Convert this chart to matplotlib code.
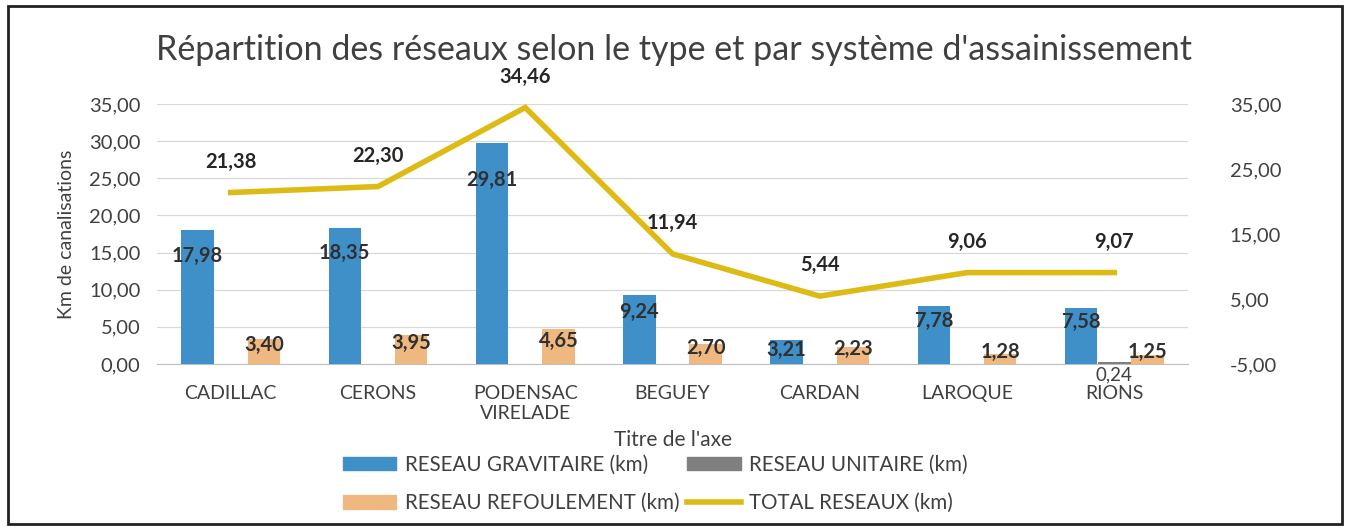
import matplotlib
matplotlib.use("Agg")
import matplotlib.pyplot as plt
import numpy as np
from matplotlib.patches import Patch, Rectangle
from matplotlib.lines import Line2D

plt.rcParams['font.family'] = ['Lato', 'DejaVu Sans']

categories = ["CADILLAC", "CERONS", "PODENSAC\nVIRELADE", "BEGUEY", "CARDAN", "LAROQUE", "RIONS"]
gravitaire = [17.98, 18.35, 29.81, 9.24, 3.21, 7.78, 7.58]
unitaire = [0, 0, 0, 0, 0, 0, 0.24]
refoulement = [3.40, 3.95, 4.65, 2.70, 2.23, 1.28, 1.25]
total = [21.38, 22.30, 34.46, 11.94, 5.44, 9.06, 9.07]
left_ticks = [0, 5, 10, 15, 20, 25, 30, 35]
right_ticks = [-5, 5, 15, 25, 35]

c_blue = '#3F8FC9'
c_grey = '#7F7F7F'
c_tan = '#EEB880'
c_line = '#DDBB14'
c_text = '#404040'

def fr(v):
    return f"{v:.2f}".replace('.', ',')

fig = plt.figure(figsize=(13.48, 5.28), dpi=100)
ax = fig.add_axes([157/1348, 1-364/528, (1188-157)/1348, 260/528])
ax2 = ax.twinx()

x = np.arange(len(categories))
w = 0.22
ax.bar(x - 0.225, gravitaire, w, color=c_blue, zorder=3)
ax.bar(x, unitaire, w, color=c_grey, zorder=3)
ax.bar(x + 0.225, refoulement, w, color=c_tan, zorder=3)

ax.set_ylim(0, 35)
ax.set_xlim(-0.5, len(categories) - 0.5)
ax.set_yticks(left_ticks)
ax.set_yticklabels([fr(t) for t in left_ticks], fontsize=14.5, color=c_text)
ax.set_xticks(x)
ax.set_xticklabels(categories, fontsize=14, color=c_text, linespacing=1.25)
ax.tick_params(axis='x', length=0, pad=15)
ax.tick_params(axis='y', length=0, pad=12)
ax.grid(axis='y', color='#D9D9D9', lw=0.9, zorder=0)
ax.set_axisbelow(True)
for s in ['top', 'left', 'right']:
    ax.spines[s].set_visible(False)
ax.spines['bottom'].set_color('#BFBFBF')
ax.set_ylabel("Km de canalisations", fontsize=14, color=c_text, labelpad=10)

for xi, v in zip(x, gravitaire):
    ax.text(xi - 0.225, v * 0.86 - 0.9, fr(v), ha='center', va='center',
            fontsize=14.5, fontweight='bold', color='#303030', zorder=5)
for xi, v in zip(x, refoulement):
    ax.text(xi + 0.225, v * 0.45 + 1.0, fr(v), ha='center', va='center',
            fontsize=14.5, fontweight='bold', color='#303030', zorder=5)
for xi, v in zip(x, unitaire):
    if v > 0:
        ax.text(xi, -1.5, fr(v), ha='center', va='center', fontsize=13.5,
                color=c_text, clip_on=False, zorder=5)

ax2.plot(x, total, color=c_line, lw=4, zorder=4, solid_joinstyle='miter')
ax2.set_ylim(-5, 35)
ax2.set_yticks(right_ticks)
ax2.set_yticklabels([fr(t) for t in right_ticks], fontsize=14.5, color=c_text)
ax2.tick_params(axis='y', length=0, pad=30)
for s in ['top', 'left', 'right', 'bottom']:
    ax2.spines[s].set_visible(False)
for xi, v in zip(x, total):
    ax2.annotate(fr(v), (xi, v), xytext=(0, 15), textcoords='offset points',
                 ha='center', va='bottom', fontsize=14.5, fontweight='bold', color='#262626')

fig.text(0.5, 1-50/528, "Répartition des réseaux selon le type et par système d'assainissement",
         ha='center', va='center', fontsize=24.5, color='#404040')
fig.text(0.499, 1-440/528, "Titre de l'axe", ha='center', va='center', fontsize=15, color=c_text)

handles = [Patch(color=c_blue), Patch(color=c_grey), Patch(color=c_tan),
           Line2D([0], [0], color=c_line, lw=4)]
labels = ["RESEAU GRAVITAIRE (km)", "RESEAU UNITAIRE (km)",
          "RESEAU REFOULEMENT (km)", "TOTAL RESEAUX (km)"]
order = [0, 2, 1, 3]
fig.legend([handles[i] for i in order], [labels[i] for i in order], ncol=2,
           loc='center', bbox_to_anchor=(0.486, 1-484/528), frameon=False,
           fontsize=14.8, labelcolor=c_text, handlelength=2.6, handleheight=0.6,
           columnspacing=0.4, handletextpad=0.4, labelspacing=0.9)

fig.add_artist(Rectangle((8/1348, 4/528), 1334/1348, 518/528, transform=fig.transFigure,
                         fill=False, edgecolor='#222222', lw=2))

fig.savefig("out.png", dpi=100)
